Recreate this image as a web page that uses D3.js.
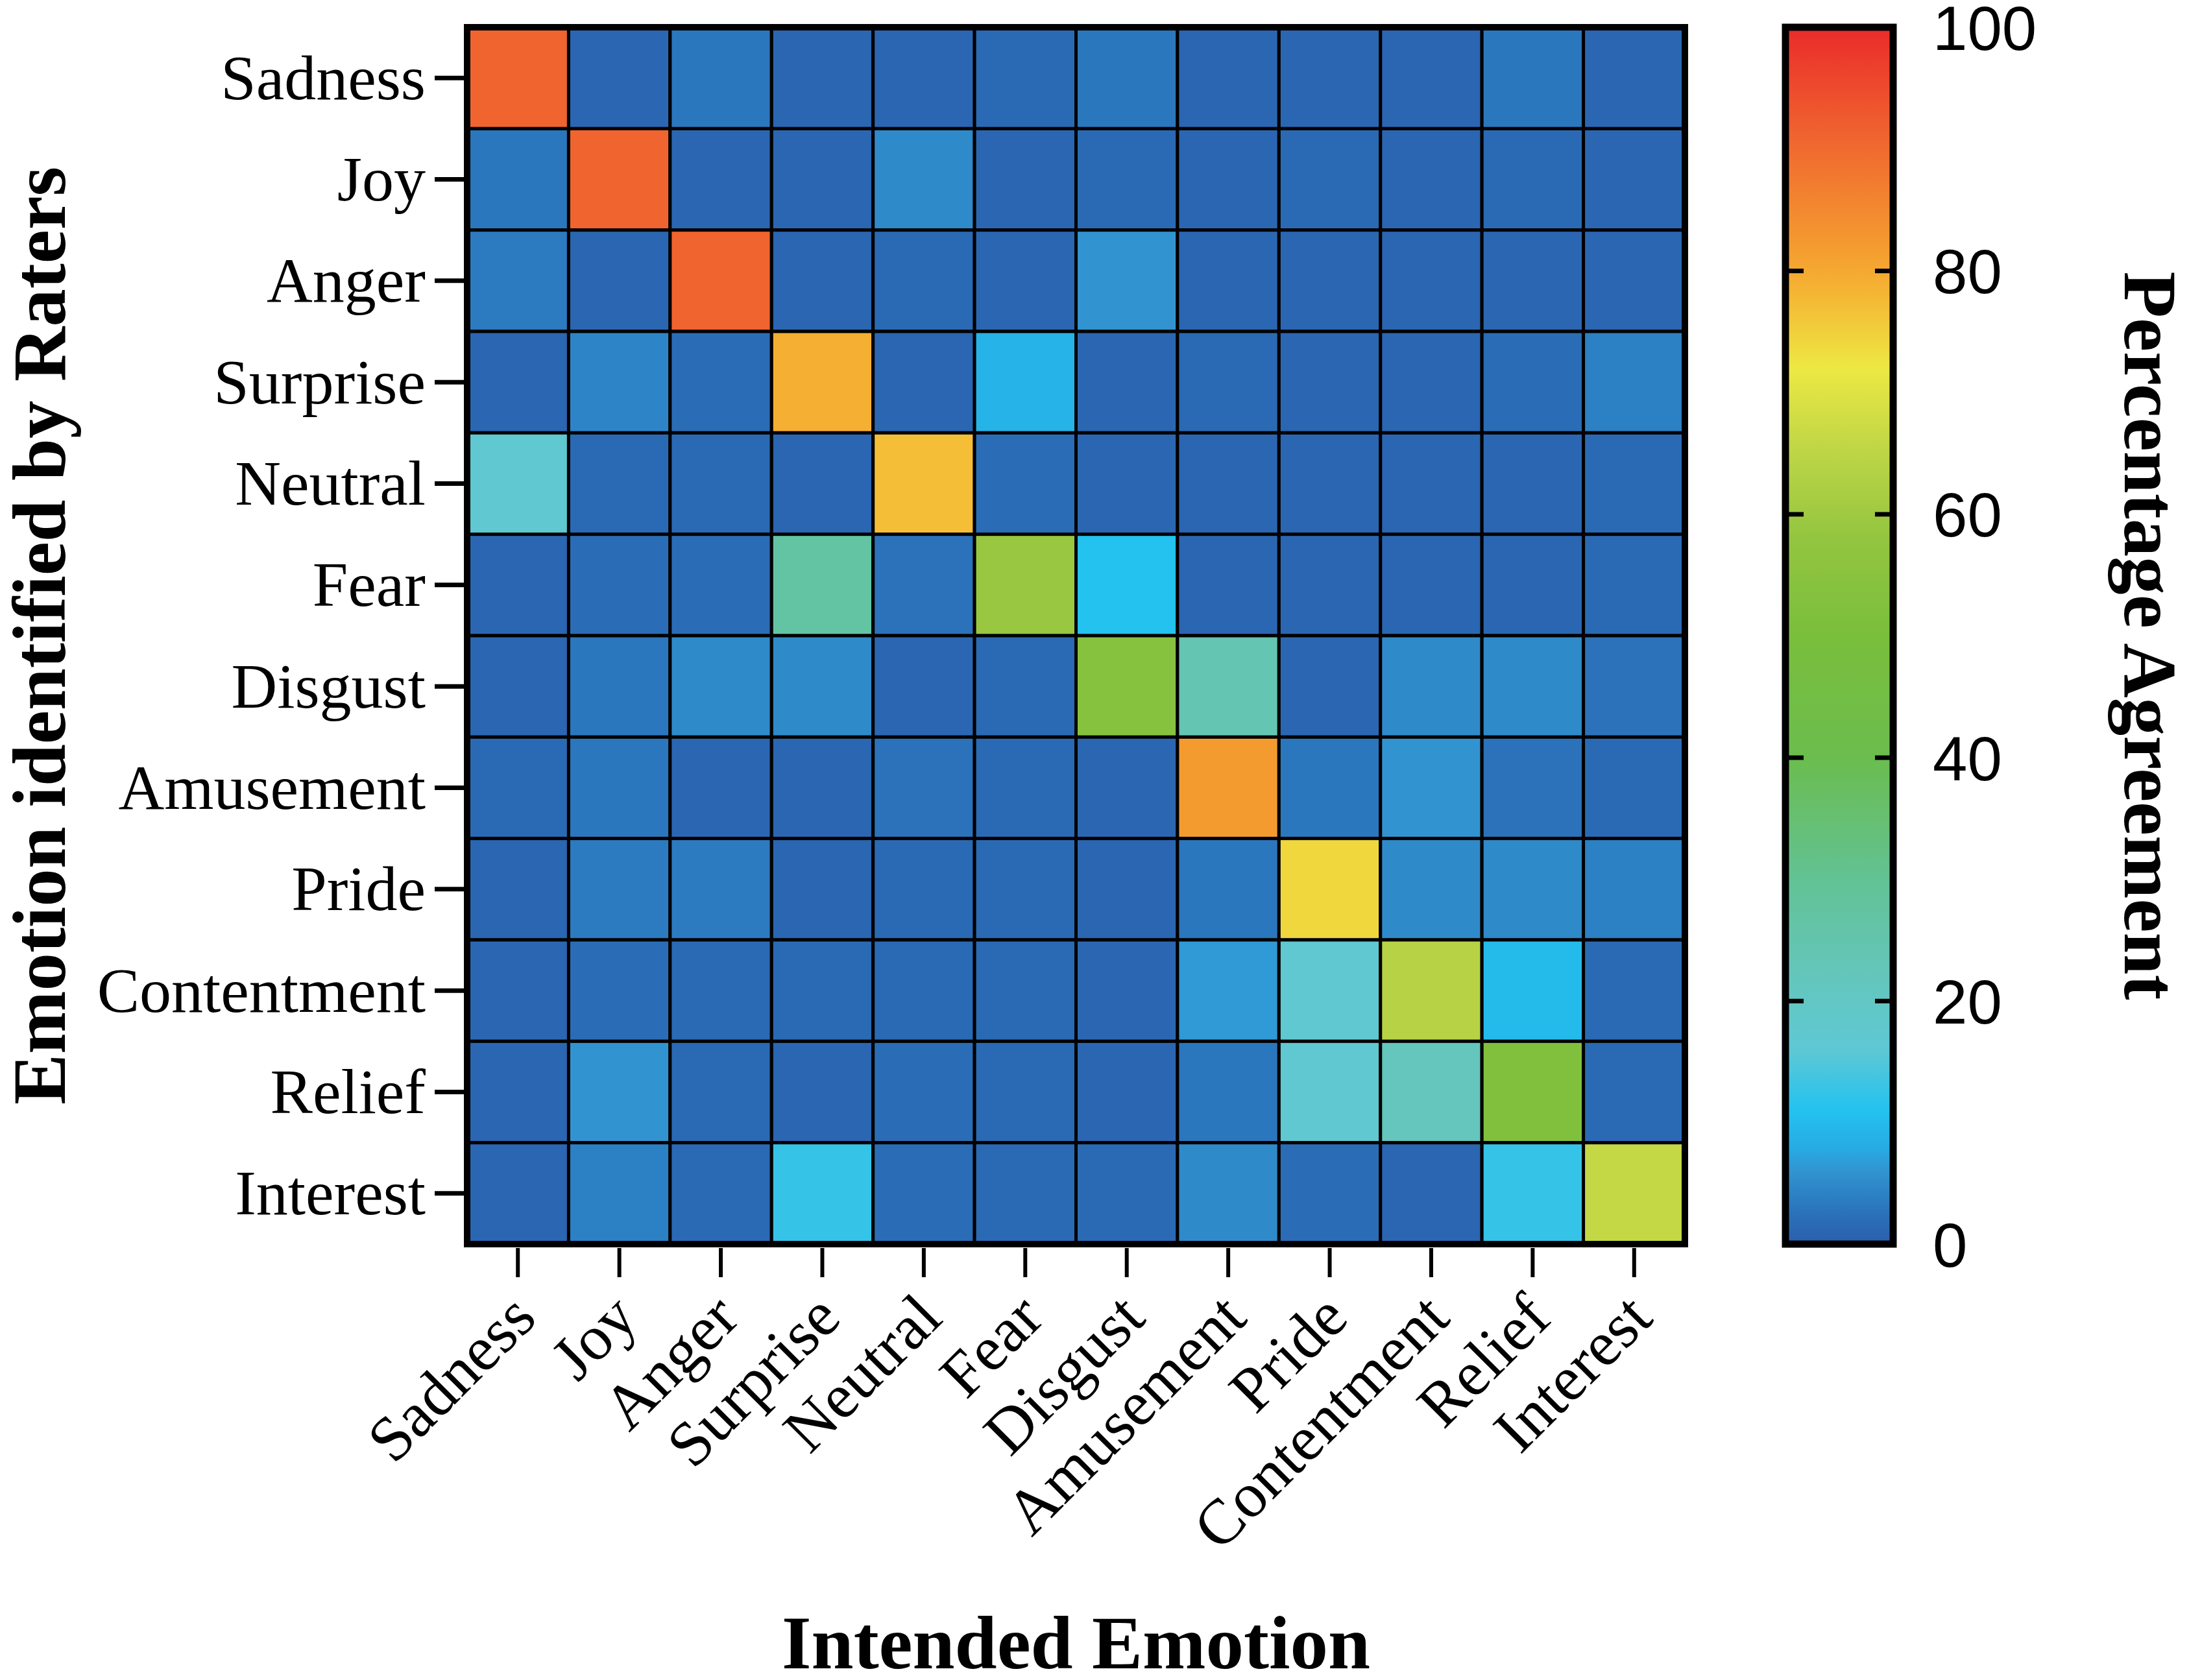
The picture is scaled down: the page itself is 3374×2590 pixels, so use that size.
<!DOCTYPE html>
<html>
<head>
<meta charset="utf-8">
<script src="https://cdn.jsdelivr.net/npm/d3@7"></script>
<style>
  body { margin: 0; background: #fff; }
  svg { display: block; }
</style>
</head>
<body>
<svg></svg>
<script>
// emotions, same order on both axes
var intended = ["Sadness", "Joy", "Anger", "Surprise", "Neutral", "Fear", "Disgust",
                "Amusement", "Pride", "Contentment", "Relief", "Interest"];
var identified = intended.slice();

// percentage agreement, one row per emotion identified by raters
var agreement = [
  [91, 1, 3, 1, 1, 1.5, 3, 1, 1, 1, 3, 1],
  [3, 91, 1, 1, 5, 1, 1.5, 1, 1.5, 1, 1.5, 1],
  [3.5, 1, 91, 1, 1.5, 1, 6, 1, 1, 1, 1, 1],
  [1, 4.5, 2, 79, 1, 9, 1, 1.5, 1, 1, 2, 4],
  [17, 1.5, 1.5, 1, 77, 2, 1, 1, 1, 1, 1, 1.5],
  [1, 2, 2, 27, 2.5, 59, 11, 1, 1, 1, 1, 1.5],
  [1, 3, 5, 5, 1, 1.5, 54, 24, 1, 5, 5, 2.5],
  [1.5, 3, 1, 1, 2.5, 1.5, 1, 82, 3, 6, 2.5, 1.5],
  [1, 3.5, 3.5, 1, 1.5, 1.5, 1, 3, 74, 5, 5, 4],
  [1, 2, 1.5, 1.5, 1.5, 1.5, 1, 6.5, 17, 64, 10, 1.5],
  [1, 6, 1.5, 1, 2, 1.5, 1, 3, 17, 22, 52, 1.5],
  [1, 4, 1.5, 12.5, 2, 1.5, 1.5, 5, 2, 1, 12.5, 66]
];

// colour bar
var colorStops = [0, 2, 4, 6, 8, 11, 16, 22, 30, 40, 50, 58, 65, 72, 78, 82, 91, 100];
var colorRange = ["#2b5fad", "#2a6db6", "#2c80c4", "#3194d0", "#27ace4", "#23c2ef",
                  "#5ec8d4", "#64c6bc", "#62c294", "#6bbd4e", "#7abe3c", "#93c540",
                  "#bdd546", "#ede843", "#f5b634", "#f49b30", "#f0642f", "#ea2b2b"];
var barTicks = [0, 20, 40, 60, 80, 100];

var W = 3374, H = 2590;
var serif = "'Liberation Serif', 'Times New Roman', serif",
    sans = "'Liberation Sans', Arial, sans-serif";
var mapL = 720, mapR = 2597, mapT = 42, mapB = 1918;

var svg = d3.select('svg').attr('width', W).attr('height', H);

var x = d3.scaleBand().domain(intended).range([mapL, mapR]);
var y = d3.scaleBand().domain(identified).range([mapT, mapB]);
var color = d3.scaleLinear().domain(colorStops).range(colorRange).clamp(true);

var cells = [];
agreement.forEach(function(row, i) {
  row.forEach(function(v, j) {
    cells.push({ row: identified[i], col: intended[j], v: v });
  });
});

svg.append('g')
  .selectAll('rect')
  .data(cells)
  .enter()
  .append('rect')
  .attr('x', function(d) { return x(d.col); })
  .attr('y', function(d) { return y(d.row); })
  .attr('width', x.bandwidth())
  .attr('height', y.bandwidth())
  .attr('fill', function(d) { return color(d.v); })
  .attr('stroke', '#000')
  .attr('stroke-width', 5);

svg.append('rect')
  .attr('x', mapL).attr('y', mapT)
  .attr('width', mapR - mapL).attr('height', mapB - mapT)
  .attr('fill', 'none').attr('stroke', '#000').attr('stroke-width', 10);

// y axis
var gy = svg.append('g')
  .attr('transform', 'translate(' + mapL + ',0)')
  .call(d3.axisLeft(y).tickSize(50).tickPadding(14));
gy.select('.domain').remove();
gy.selectAll('line').attr('stroke-width', 7);
gy.selectAll('text')
  .attr('font-family', serif).attr('font-size', 98).attr('fill', '#000').attr('dy', '0.33em');

// x axis
var gx = svg.append('g')
  .attr('transform', 'translate(0,' + (mapB + 6) + ')')
  .call(d3.axisBottom(x).tickSize(45));
gx.select('.domain').remove();
gx.selectAll('line').attr('stroke-width', 6);
gx.selectAll('text')
  .attr('font-family', serif).attr('font-size', 98).attr('fill', '#000')
  .attr('y', 0).attr('dy', 0)
  .attr('text-anchor', 'end')
  .attr('transform', 'translate(32,112) rotate(-45)');

// axis titles
svg.append('text')
  .attr('transform', 'translate(' + ((mapL + mapR) / 2) + ',2572)')
  .attr('text-anchor', 'middle')
  .attr('font-family', serif).attr('font-weight', 'bold').attr('font-size', 117)
  .text('Intended Emotion');

svg.append('text')
  .attr('transform', 'translate(100,' + ((mapT + mapB) / 2) + ') rotate(-90)')
  .attr('text-anchor', 'middle')
  .attr('font-family', serif).attr('font-weight', 'bold').attr('font-size', 117)
  .text('Emotion identified by Raters');

// colour bar
var bx0 = 2752, bx1 = 2918;
var cy = d3.scaleLinear().domain([0, 100]).range([mapB, mapT]);

var grad = svg.append('defs').append('linearGradient')
  .attr('id', 'cbar')
  .attr('x1', 0).attr('y1', 1).attr('x2', 0).attr('y2', 0);
grad.selectAll('stop')
  .data(colorStops)
  .enter()
  .append('stop')
  .attr('offset', function(d) { return d / 100; })
  .attr('stop-color', function(d, i) { return colorRange[i]; });

svg.append('rect')
  .attr('x', bx0).attr('y', cy(100))
  .attr('width', bx1 - bx0).attr('height', cy(0) - cy(100))
  .attr('fill', 'url(#cbar)')
  .attr('stroke', '#000').attr('stroke-width', 11);

var inner = barTicks.filter(function(t) { return t > 0 && t < 100; });
var tl = svg.append('g')
  .attr('transform', 'translate(' + (bx0 + 28) + ',0)')
  .call(d3.axisLeft(cy).tickValues(inner).tickSize(24).tickFormat(''));
var tr = svg.append('g')
  .attr('transform', 'translate(' + (bx1 - 28) + ',0)')
  .call(d3.axisRight(cy).tickValues(inner).tickSize(24).tickFormat(''));
[tl, tr].forEach(function(g) {
  g.select('.domain').remove();
  g.selectAll('line').attr('stroke-width', 7);
});

var gc = svg.append('g')
  .attr('transform', 'translate(' + (bx1 + 5) + ',0)')
  .call(d3.axisRight(cy).tickValues(barTicks).tickSize(0).tickPadding(56));
gc.select('.domain').remove();
gc.selectAll('text')
  .attr('font-family', sans).attr('font-size', 96).attr('fill', '#000').attr('dy', '0.36em');

svg.append('text')
  .attr('transform', 'translate(3275,' + ((mapT + mapB) / 2) + ') rotate(90)')
  .attr('text-anchor', 'middle')
  .attr('font-family', serif).attr('font-weight', 'bold').attr('font-size', 117)
  .text('Percentage Agreement');
</script>
</body>
</html>
